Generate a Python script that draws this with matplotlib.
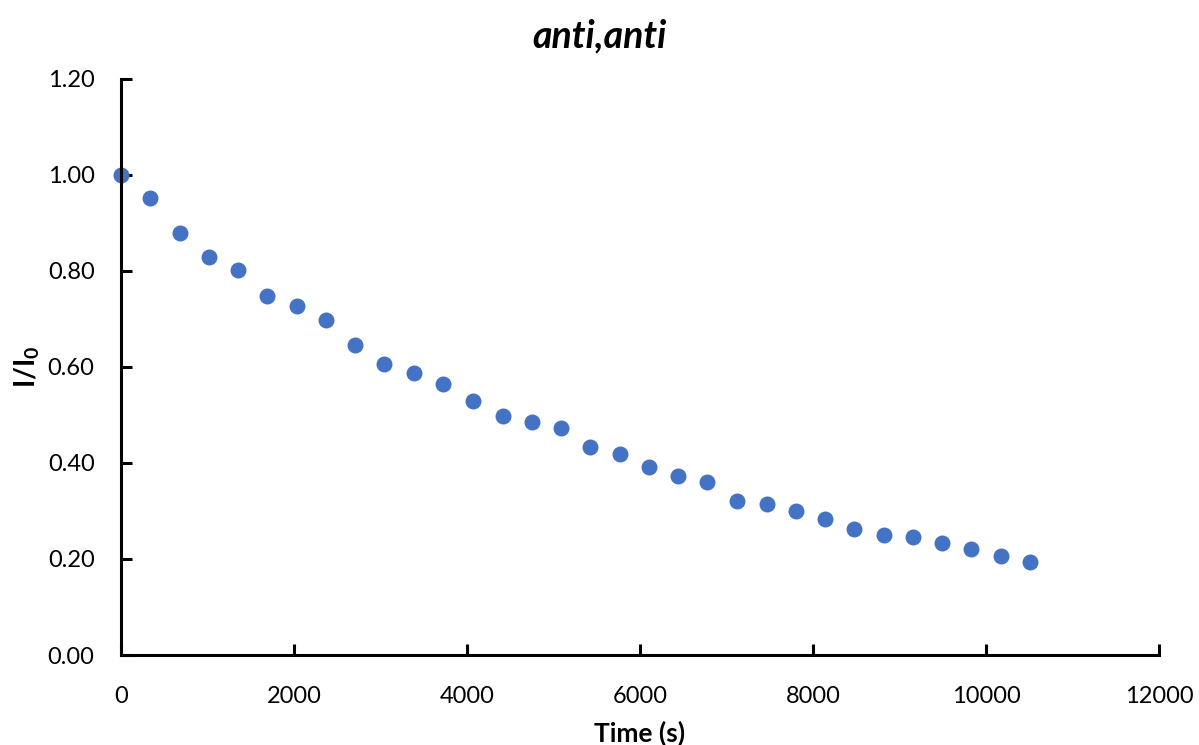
import matplotlib
matplotlib.use("Agg")
import matplotlib.pyplot as plt
import numpy as np

# Decay data
time_s = [0, 335, 682, 1017, 1353, 1688, 2035, 2370, 2705, 3040, 3387,
          3723, 4069, 4416, 4751, 5087, 5422, 5769, 6104, 6439, 6775,
          7121, 7468, 7803, 8139, 8474, 8821, 9156, 9491, 9827, 10173, 10509]
ratio = [1.000, 0.952, 0.879, 0.829, 0.802, 0.748, 0.727, 0.698, 0.646,
         0.606, 0.588, 0.565, 0.529, 0.498, 0.485, 0.473, 0.433, 0.419,
         0.392, 0.373, 0.360, 0.321, 0.315, 0.300, 0.283, 0.263, 0.250,
         0.246, 0.233, 0.221, 0.206, 0.194]

plt.rcParams["font.family"] = ["Lato", "DejaVu Sans"]

fig = plt.figure(figsize=(11.99, 7.45), dpi=100)
ax = fig.add_axes([0.1009, 0.1208, 0.8657, 0.7732])

ax.plot(time_s, ratio, "o", color="#4472C4", markersize=11.5,
        markeredgewidth=0, clip_on=False)

ax.set_xlim(0, 12000)
ax.set_ylim(0, 1.2)
ax.set_xticks(np.arange(0, 12001, 2000))
ax.set_yticks(np.arange(0, 1.21, 0.2))
ax.set_yticklabels([f"{v:.2f}" for v in np.arange(0, 1.21, 0.2)])

for s in ["top", "right"]:
    ax.spines[s].set_visible(False)
for s in ["left", "bottom"]:
    ax.spines[s].set_linewidth(2.2)

ax.tick_params(axis="both", direction="in", length=8, width=2.2,
               labelsize=17)
ax.tick_params(axis="y", pad=19)
ax.tick_params(axis="x", pad=22)

ax.set_xlabel("Time (s)", fontsize=19, fontweight="bold", labelpad=10)
ax.set_ylabel("I/I$_\\mathregular{0}$", fontsize=20, fontweight="bold")
ax.yaxis.set_label_coords(-0.076, 0.5)
fig.suptitle("anti,anti", fontsize=27, fontweight="bold", style="italic",
             x=0.5, y=0.975)

fig.savefig("out.png", dpi=100)
